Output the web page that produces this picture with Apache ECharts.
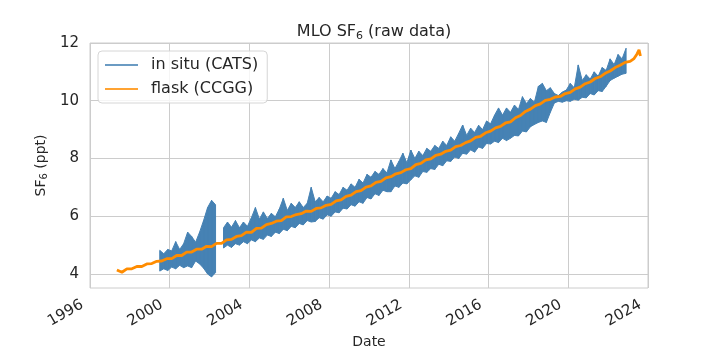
<!DOCTYPE html>
<html>
<head>
<meta charset="utf-8">
<script src="https://cdn.jsdelivr.net/npm/echarts@6/dist/echarts.min.js"></script>
<style>html,body{margin:0;padding:0;background:#fff}#c{width:720px;height:360px}</style>
</head>
<body>
<div id="c"></div>
<script>
// ---- data ----
const xTicks = [1996, 2000, 2004, 2008, 2012, 2016, 2020, 2024];
const yTicks = [4, 6, 8, 10, 12];

// in situ (CATS): envelope of the raw band (low / high), decimal years
const catsYear = [1999.5,1999.7,1999.9,
 2000.1,2000.3,2000.5,2000.7,2000.9, 2001.1,2001.3,2001.5,2001.7,2001.9,
 2002.1,2002.3,2002.5,2002.7,2002.9, 2003.1,2003.3,2003.5,2003.7,2003.9,
 2004.1,2004.3,2004.5,2004.7,2004.9, 2005.1,2005.3,2005.5,2005.7,2005.9,
 2006.1,2006.3,2006.5,2006.7,2006.9, 2007.1,2007.3,2007.5,2007.7,2007.9,
 2008.1,2008.3,2008.5,2008.7,2008.9, 2009.1,2009.3,2009.5,2009.7,2009.9,
 2010.1,2010.3,2010.5,2010.7,2010.9, 2011.1,2011.3,2011.5,2011.7,2011.9,
 2012.1,2012.3,2012.5,2012.7,2012.9, 2013.1,2013.3,2013.5,2013.7,2013.9,
 2014.1,2014.3,2014.5,2014.7,2014.9, 2015.1,2015.3,2015.5,2015.7,2015.9,
 2016.1,2016.3,2016.5,2016.7,2016.9, 2017.1,2017.3,2017.5,2017.7,2017.9,
 2018.1,2018.3,2018.5,2018.7,2018.9, 2019.1,2019.3,2019.5,2019.7,2019.9,
 2020.1,2020.3,2020.5,2020.7,2020.9, 2021.1,2021.3,2021.5,2021.7,2021.9,
 2022.1,2022.3,2022.5,2022.7,2022.9];
const catsHigh = [4.82,4.70,4.85,
 4.80,5.12,4.85,5.05,5.45, 5.30,5.10,5.45,5.85,6.30,
 6.55,6.40,null,5.60,5.80, 5.62,5.85,5.60,5.80,5.65,
 5.95,6.30,5.90,6.15,5.92, 6.10,5.98,6.25,6.62,6.20,
 6.45,6.30,6.50,6.30,6.45, 7.00,6.50,6.65,6.50,6.70,
 6.62,6.85,6.75,7.00,6.90, 7.12,7.00,7.28,7.15,7.45,
 7.35,7.55,7.45,7.65,7.50, 7.95,7.65,7.90,8.18,7.85,
 8.29,8.00,8.25,8.10,8.35, 8.25,8.45,8.35,8.60,8.45,
 8.75,8.60,8.87,9.16,8.80, 9.05,8.90,9.15,9.00,9.30,
 9.20,9.50,9.75,9.50,9.75, 9.60,9.85,9.70,10.14,9.90,
 10.08,9.95,10.50,10.60,10.35, 10.45,10.25,10.18,10.30,10.37,
 10.60,10.45,11.24,10.70,10.90, 10.75,11.00,10.85,11.15,11.05,
 11.45,11.25,11.60,11.45,11.82];
const catsLow = [4.10,4.18,4.12,
 4.24,4.18,4.30,4.22,4.28, 4.22,4.45,4.35,4.20,4.00,
 3.90,4.05,null,4.90,5.00, 4.92,5.05,5.00,5.12,5.05,
 5.18,5.12,5.25,5.20,5.35, 5.30,5.45,5.40,5.55,5.50,
 5.65,5.60,5.75,5.70,5.85, 5.80,5.82,5.95,5.90,6.05,
 6.00,6.15,6.12,6.28,6.25, 6.40,6.35,6.50,6.45,6.65,
 6.60,6.78,6.72,6.90,6.85, 6.85,7.05,7.00,7.15,7.12,
 7.26,7.40,7.35,7.55,7.52, 7.65,7.62,7.80,7.75,7.92,
 7.90,8.05,8.00,8.18,8.15, 8.30,8.22,8.40,8.35,8.52,
 8.50,8.60,8.55,8.70,8.62, 8.70,8.80,8.78,8.95,8.92,
 9.10,9.18,9.25,9.30,9.25, 9.60,9.92,9.98,9.95,10.00,
 9.98,10.05,10.02,10.12,10.10, 10.25,10.20,10.35,10.32,10.50,
 10.70,10.78,10.85,10.92,10.95];

// flask (CCGG)
const flaskYear = [1997.35,1997.6,1997.85,
 1998.1,1998.35,1998.6,1998.85, 1999.1,1999.35,1999.6,1999.85,
 2000.1,2000.35,2000.6,2000.85, 2001.1,2001.35,2001.6,2001.85,
 2002.1,2002.35,2002.6,2002.85, 2003.1,2003.35,2003.6,2003.85,
 2004.1,2004.35,2004.6,2004.85, 2005.1,2005.35,2005.6,2005.85,
 2006.1,2006.35,2006.6,2006.85, 2007.1,2007.35,2007.6,2007.85,
 2008.1,2008.35,2008.6,2008.85, 2009.1,2009.35,2009.6,2009.85,
 2010.1,2010.35,2010.6,2010.85, 2011.1,2011.35,2011.6,2011.85,
 2012.1,2012.35,2012.6,2012.85, 2013.1,2013.35,2013.6,2013.85,
 2014.1,2014.35,2014.6,2014.85, 2015.1,2015.35,2015.6,2015.85,
 2016.1,2016.35,2016.6,2016.85, 2017.1,2017.35,2017.6,2017.85,
 2018.1,2018.35,2018.6,2018.85, 2019.1,2019.35,2019.6,2019.85,
 2020.1,2020.35,2020.6,2020.85, 2021.1,2021.35,2021.6,2021.85,
 2022.1,2022.35,2022.6,2022.85, 2023.1,2023.3,2023.45,2023.55,2023.62];
const flaskVal = [4.14,4.06,4.18,
 4.18,4.26,4.26,4.35, 4.36,4.44,4.45,4.53,
 4.53,4.64,4.64,4.76, 4.76,4.86,4.86,4.96,
 4.95,5.06,5.06,5.18, 5.20,5.30,5.33,5.45,
 5.44,5.58,5.59,5.71, 5.75,5.83,5.85,5.98,
 5.99,6.06,6.09,6.18, 6.17,6.27,6.29,6.38,
 6.41,6.53,6.57,6.69, 6.73,6.85,6.89,7.01,
 7.05,7.17,7.21,7.33, 7.37,7.47,7.51,7.61,
 7.65,7.79,7.83,7.95, 7.99,8.11,8.15,8.25,
 8.29,8.41,8.45,8.55, 8.61,8.73,8.77,8.89,
 8.95,9.06,9.11,9.23, 9.27,9.41,9.49,9.63,
 9.71,9.83,9.89,10.01, 10.05,10.13,10.15,10.25,
 10.29,10.41,10.47,10.59, 10.65,10.77,10.83,10.95,
 11.03,11.15,11.23,11.33, 11.36,11.46,11.62,11.76,11.55];

// ---- build chart ----
const FONT = 'DejaVu Sans';
const TXT = '#262626';
const BLUE = '#4682b4';
const catsData = catsYear.map((t, i) => [t, catsLow[i], catsHigh[i]]);
const flaskData = flaskYear.map((t, i) => [t, flaskVal[i]]);

function renderBand(params, api) {
  const i = params.dataIndex;
  if (i >= catsYear.length - 1) return null;
  if (catsLow[i] == null || catsLow[i + 1] == null || catsHigh[i] == null || catsHigh[i + 1] == null) return null;
  const a = api.coord([catsYear[i], catsLow[i]]);
  const b = api.coord([catsYear[i + 1], catsLow[i + 1]]);
  const c = api.coord([catsYear[i + 1], catsHigh[i + 1]]);
  const d = api.coord([catsYear[i], catsHigh[i]]);
  return {
    type: 'polygon',
    shape: {points: [a, b, c, d]},
    style: {fill: BLUE, stroke: BLUE, lineWidth: 1}
  };
}

const chart = echarts.init(document.getElementById('c'), null, {renderer: 'canvas'});
chart.setOption({
  animation: false,
  backgroundColor: '#fff',
  textStyle: {fontFamily: FONT, color: TXT},
  title: {
    text: '{a|MLO SF}{s|6}{a| (raw data)}',
    left: 369, top: 17, textAlign: 'center',
    textStyle: {
      fontWeight: 'normal',
      rich: {
        a: {fontFamily: FONT, fontSize: 16, fontWeight: 'normal', color: TXT, lineHeight: 20},
        s: {fontFamily: FONT, fontSize: 11, fontWeight: 'normal', color: TXT, lineHeight: 20, padding: [8, 0, 0, 0]}
      }
    }
  },
  grid: {left: 90, right: 72, top: 43, bottom: 72, show: true, borderColor: '#cccccc', borderWidth: 1, containLabel: false},
  legend: {
    orient: 'vertical', left: 98, top: 51,
    backgroundColor: 'rgba(255,255,255,0.8)',
    borderColor: '#d6d6d6', borderWidth: 1, borderRadius: 4,
    padding: [6, 9, 6, 7],
    itemGap: 8, itemWidth: 33, itemHeight: 2, icon: 'rect',
    textStyle: {fontFamily: FONT, fontSize: 16, color: TXT, lineHeight: 16, padding: [0, 0, 0, 8]},
    data: [
      {name: 'in situ (CATS)', icon: 'rect', itemStyle: {color: '#6b9bc3'}},
      {name: 'flask (CCGG)', icon: 'rect', itemStyle: {color: '#ffa333'}}
    ]
  },
  xAxis: {
    type: 'value', min: 1996, max: 2024, interval: 4,
    name: 'Date', nameLocation: 'middle', nameGap: 47,
    nameTextStyle: {fontFamily: FONT, fontSize: 14, color: TXT},
    axisLine: {show: false},
    axisTick: {show: false},
    axisLabel: {rotate: 30, margin: 11, fontFamily: FONT, fontSize: 15, color: TXT,
      formatter: v => String(v), padding: [0, 9, 0, 0]},
    splitLine: {show: true, lineStyle: {color: '#cccccc', width: 1}}
  },
  yAxis: {
    type: 'value', min: 3.515, max: 12,
    name: '{a|SF}{s|6}{a| (ppt)}', nameLocation: 'middle', nameGap: 19,
    nameTextStyle: {
      rich: {
        a: {fontFamily: FONT, fontSize: 14, color: TXT, lineHeight: 18},
        s: {fontFamily: FONT, fontSize: 10, color: TXT, lineHeight: 18, padding: [6, 0, 0, 0]}
      }
    },
    axisLine: {show: false},
    axisTick: {show: false, customValues: yTicks},
    axisLabel: {margin: 11, fontFamily: FONT, fontSize: 15, color: TXT, customValues: yTicks},
    splitLine: {show: true, lineStyle: {color: '#cccccc', width: 1}}
  },
  series: [
    {
      name: 'in situ (CATS)', type: 'custom', data: catsData,
      renderItem: renderBand, clip: true,
      encode: {x: 0, y: [1, 2]},
      itemStyle: {color: BLUE}, z: 2
    },
    {
      name: 'flask (CCGG)', type: 'line', data: flaskData,
      symbol: 'none', color: '#ff8c00',
      lineStyle: {color: '#ff8c00', width: 2.8}, z: 3
    }
  ]
});
</script>
</body>
</html>
